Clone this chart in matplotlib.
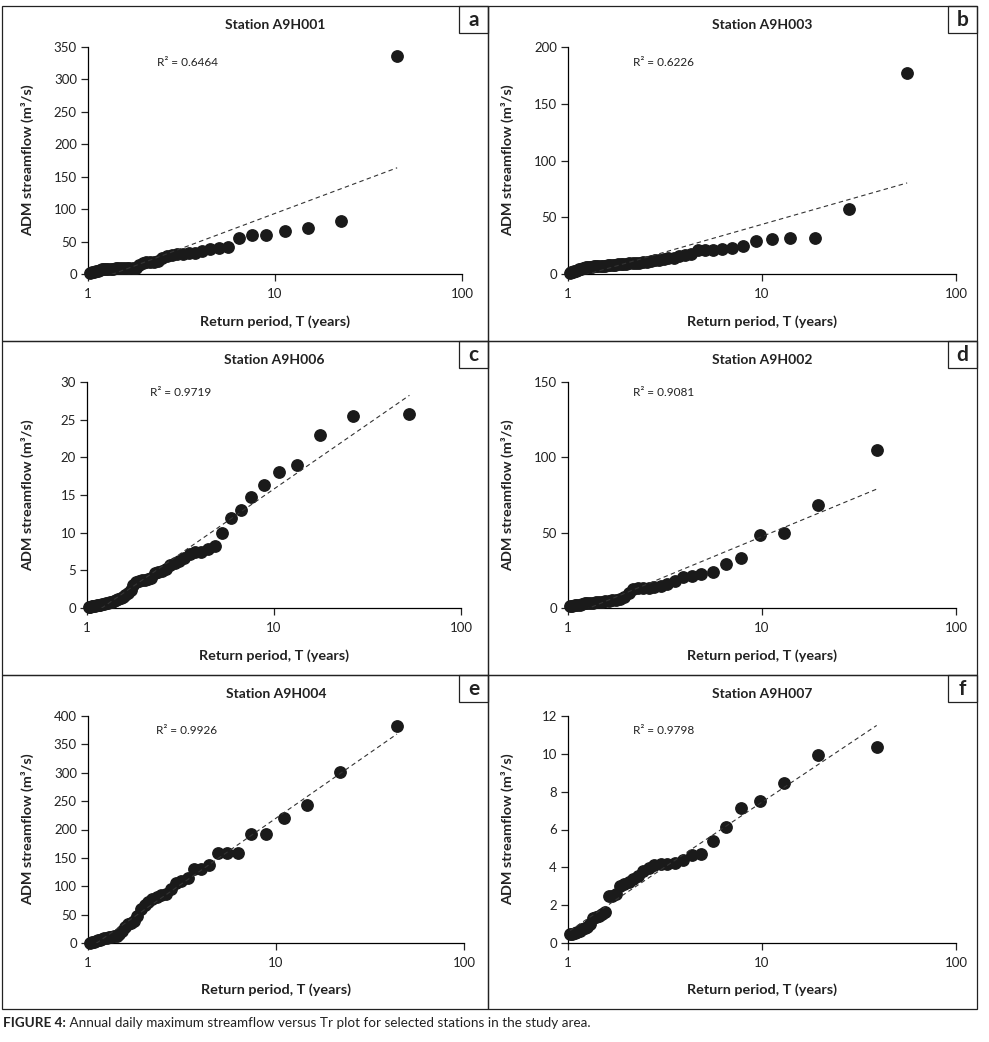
"""
Annual daily maximum streamflow versus return period for six stations
"""
import numpy as np
import matplotlib.pyplot as plt
from matplotlib.patches import Rectangle
from matplotlib.ticker import NullLocator

plt.rcParams['font.family'] = ['Lato', 'DejaVu Sans']

W, H = 989, 1042

# Annual daily maximum flows (m3/s), ranked from largest to smallest
flow_a9h001 = [336, 82, 71, 67, 60.5, 60, 55, 41, 39.5, 38, 35, 33, 32, 31, 30.5,
               29.5, 28, 24, 20, 19, 19, 18.5, 17, 14, 10, 9, 9, 9, 8.8, 8.6, 8.5,
               8.5, 8.4, 8.3, 8.2, 8, 7.5, 7, 6, 5, 4.5, 3.5, 2.5, 1.5]
flow_a9h003 = [177, 57.5, 32, 32, 31, 29, 25, 22.5, 22, 21.5, 21.5, 21, 18, 16.5,
               15.5, 14.5, 13.7, 13, 12.5, 12, 11.5, 11, 10.5, 10, 9.8, 9.6, 9.4, 9,
               8.8, 8.6, 8.4, 8.2, 8, 7.8, 7.6, 7.4, 7.2, 7, 6.9, 6.8, 6.7, 6.6, 6.5,
               6.4, 6, 5.5, 5, 4.5, 4, 3.5, 3, 2.5, 2, 1.5, 1]
flow_a9h006 = [25.7, 25.5, 22.9, 19.0, 18.0, 16.3, 14.8, 13.0, 12.0, 10.0, 8.2, 7.8,
               7.5, 7.4, 7.2, 6.6, 6.3, 6.0, 5.7, 5.2, 4.9, 4.8, 4.6, 4.0, 3.8, 3.7,
               3.7, 3.6, 3.5, 3.0, 2.4, 2.0, 1.7, 1.4, 1.3, 1.2, 1.0, 0.9, 0.8, 0.75,
               0.7, 0.6, 0.55, 0.5, 0.45, 0.4, 0.35, 0.3, 0.25, 0.2, 0.15, 0.1]
flow_a9h002 = [104.7, 68.3, 50, 48.4, 33, 29.3, 24, 22.5, 21, 20.5, 18, 16, 14.5,
               13.8, 13.5, 13.3, 13, 12.5, 10, 7.5, 6, 5.5, 5, 4.8, 4.5, 4.3, 4, 3.8,
               3.6, 3.4, 3.2, 3, 2.6, 2.2, 2, 1.8, 1.5, 1.3]
flow_a9h004 = [382, 301, 243, 220, 191.5, 191.5, 158.6, 158.6, 158.6, 138, 131, 131,
               114, 110, 106, 95, 87, 84, 81, 77, 73, 67, 60, 48, 38, 36, 34, 28, 22,
               16, 13, 12, 11, 10, 9, 8, 6.5, 5.5, 4.5, 3.5, 2.5, 1.5, 0.5]
flow_a9h007 = [10.35, 9.92, 8.48, 7.51, 7.16, 6.12, 5.38, 4.7, 4.65, 4.4, 4.25, 4.2,
               4.15, 4.1, 3.95, 3.8, 3.55, 3.4, 3.25, 3.1, 3.0, 2.6, 2.5, 2.5, 1.65,
               1.55, 1.45, 1.35, 1.3, 1.0, 0.85, 0.78, 0.72, 0.65, 0.6, 0.55, 0.5, 0.45]

stations = ['A9H001', 'A9H003', 'A9H006', 'A9H002', 'A9H004', 'A9H007']
flows = [flow_a9h001, flow_a9h003, flow_a9h006, flow_a9h002, flow_a9h004, flow_a9h007]
panel_letters = ['a', 'b', 'c', 'd', 'e', 'f']
r2_values = ['0.6464', '0.6226', '0.9719', '0.9081', '0.9926', '0.9798']
y_max = [350, 200, 30, 150, 400, 12]
y_step = [50, 50, 5, 50, 50, 2]

# Layout in pixels: plot areas (x0, y0, x1, y1)
axes_px = [(88, 47, 462, 274), (568, 47, 956, 274),
           (87, 382, 461, 608), (568, 382, 956, 608),
           (88, 716, 464, 943), (568, 716, 956, 943)]
col_px = [(2, 488), (488, 977)]
row_px = [(6, 341), (341, 675), (675, 1009)]
r2_pos_px = [(157, 63), (633, 63), (150, 392), (633, 392), (156, 731), (633, 731)]
xlabel_y_px = [322, 656, 990]
ylabel_x_px = [28, 508]

DOT = '#1a1a1a'
INK = '#222222'


def fx(x):
    return x / W


def fy(y):
    return 1 - y / H


def return_period(values):
    """Weibull plotting position T = (n + 1) / rank"""
    n = len(values)
    rank = np.arange(1, n + 1)
    return (n + 1) / rank


fig = plt.figure(figsize=(W / 100, H / 100), dpi=100)

for i in range(6):
    row, col = divmod(i, 2)
    x0, y0, x1, y1 = axes_px[i]
    ax = fig.add_axes([fx(x0), fy(y1), (x1 - x0) / W, (y1 - y0) / H])

    q = np.array(flows[i], dtype=float)
    t = return_period(q)

    ax.plot(t, q, 'o', ms=8.2, color=DOT, mec=DOT, clip_on=False, zorder=3)

    # logarithmic trendline, as in the spreadsheet
    c = np.polyfit(np.log(t), q, 1)
    tx = np.array([t.min(), t.max()])
    ax.plot(tx, c[0] * np.log(tx) + c[1], ls=(0, (4, 3)), color='#333333',
            lw=0.8, zorder=4)

    ax.set_xscale('log')
    ax.set_xlim(1, 100)
    ax.set_xticks([1, 10, 100])
    ax.set_xticklabels(['1', '10', '100'])
    ax.xaxis.set_minor_locator(NullLocator())
    ax.set_ylim(0, y_max[i])
    ax.set_yticks(np.arange(0, y_max[i] + y_step[i], y_step[i]))
    for s in ['top', 'right']:
        ax.spines[s].set_visible(False)
    for s in ['left', 'bottom']:
        ax.spines[s].set_linewidth(0.9)
    ax.tick_params(direction='out', length=5, width=0.9, labelsize=9.5,
                   colors=INK)
    ax.tick_params(axis='x', pad=5)
    ax.tick_params(axis='y', pad=3)

    # panel frame and letter box
    bx0, bx1 = col_px[col]
    by0, by1 = row_px[row]
    fig.add_artist(Rectangle((fx(bx0), fy(by1)), (bx1 - bx0) / W, (by1 - by0) / H,
                             transform=fig.transFigure, fill=False, lw=0.9,
                             edgecolor=INK))
    fig.add_artist(Rectangle((fx(bx1 - 29), fy(by0 + 27)), 29 / W, 27 / H,
                             transform=fig.transFigure, fill=False, lw=0.9,
                             edgecolor=INK))
    fig.text(fx(bx1 - 14.5), fy(by0 + 14), panel_letters[i], ha='center',
             va='center', fontsize=15, fontweight='bold', color=INK)

    # texts
    xc = (x0 + x1) / 2
    fig.text(fx(xc), fy(by0 + 19), 'Station ' + stations[i], ha='center',
             va='center', fontsize=10, fontweight='bold', color=INK)
    rx, ry = r2_pos_px[i]
    fig.text(fx(rx), fy(ry), 'R² = ' + r2_values[i], ha='left', va='center',
             fontsize=8.5, color=INK)
    fig.text(fx(xc), fy(xlabel_y_px[row]), 'Return period, T (years)',
             ha='center', va='center', fontsize=10.4, fontweight='bold',
             color=INK)
    fig.text(fx(ylabel_x_px[col]), fy((y0 + y1) / 2), 'ADM streamflow (m³/s)',
             ha='center', va='center', rotation=90, fontsize=10.4,
             fontweight='bold', color=INK)

# caption
cap = fig.text(fx(3), fy(1029), 'FIGURE 4:', ha='left', va='bottom',
               fontsize=9.7, fontweight='bold', color=INK)
ax.annotate(' Annual daily maximum streamflow versus Tr plot for selected stations '
            'in the study area.', xy=(1, 0), xycoords=cap, ha='left', va='bottom',
            fontsize=9.7, color=INK, annotation_clip=False)

fig.savefig('out.png', dpi=100)
